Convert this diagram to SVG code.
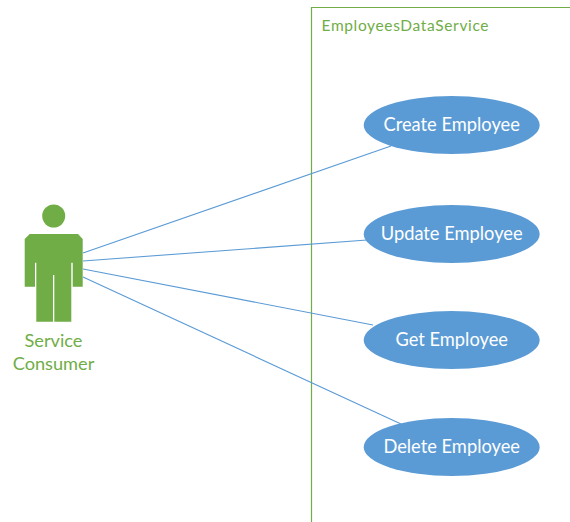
<svg xmlns="http://www.w3.org/2000/svg" width="570" height="522" viewBox="0 0 570 522">
<style>
.uc{fill:#5b9bd5}
.ut{fill:#fff;font:18.3px Lato,"Liberation Sans",sans-serif;text-anchor:middle}
.gt{fill:#70ad47;font-family:Lato,"Liberation Sans",sans-serif}
.c{stroke:#5b9bd5;stroke-width:1.1;fill:none}
</style>
<rect width="570" height="522" fill="#fff"/>
<g id="boundary">
<path d="M570 7.500H311.500V522" fill="none" stroke="#70ad47" stroke-width="1.2"/>
<text class="gt" x="321.500" y="31" font-size="15.500" textLength="167">EmployeesDataService</text>
</g>
<g id="connectors">
<path class="c" d="M83 253L391 146"/>
<path class="c" d="M83 261L367 240"/>
<path class="c" d="M83 269L373 325"/>
<path class="c" d="M83 277L401 424"/>
</g>
<g id="actor">
<circle cx="53.700" cy="216" r="11.500" fill="#70ad47"/>
<path d="M29.700 234H78L82.700 239V286.700H72.700V262.700H71.300V321.700H54.300V275H53V321.700H36.300V262.700H35V286.700H24.700V239Z" fill="#70ad47"/>
<text class="gt" text-anchor="middle" font-size="18.200" x="53.500" y="347">Service</text>
<text class="gt" text-anchor="middle" font-size="18.200" x="53.500" y="370">Consumer</text>
</g>
<g id="create"><ellipse class="uc" cx="451.700" cy="125" rx="88" ry="29"/><text class="ut" x="451.700" y="131">Create Employee</text></g>
<g id="update"><ellipse class="uc" cx="451.700" cy="234" rx="88" ry="29"/><text class="ut" x="451.700" y="240">Update Employee</text></g>
<g id="get"><ellipse class="uc" cx="451.700" cy="340" rx="88" ry="29"/><text class="ut" x="451.700" y="346">Get Employee</text></g>
<g id="delete"><ellipse class="uc" cx="451.700" cy="447" rx="88" ry="29"/><text class="ut" x="451.700" y="453">Delete Employee</text></g>
</svg>
